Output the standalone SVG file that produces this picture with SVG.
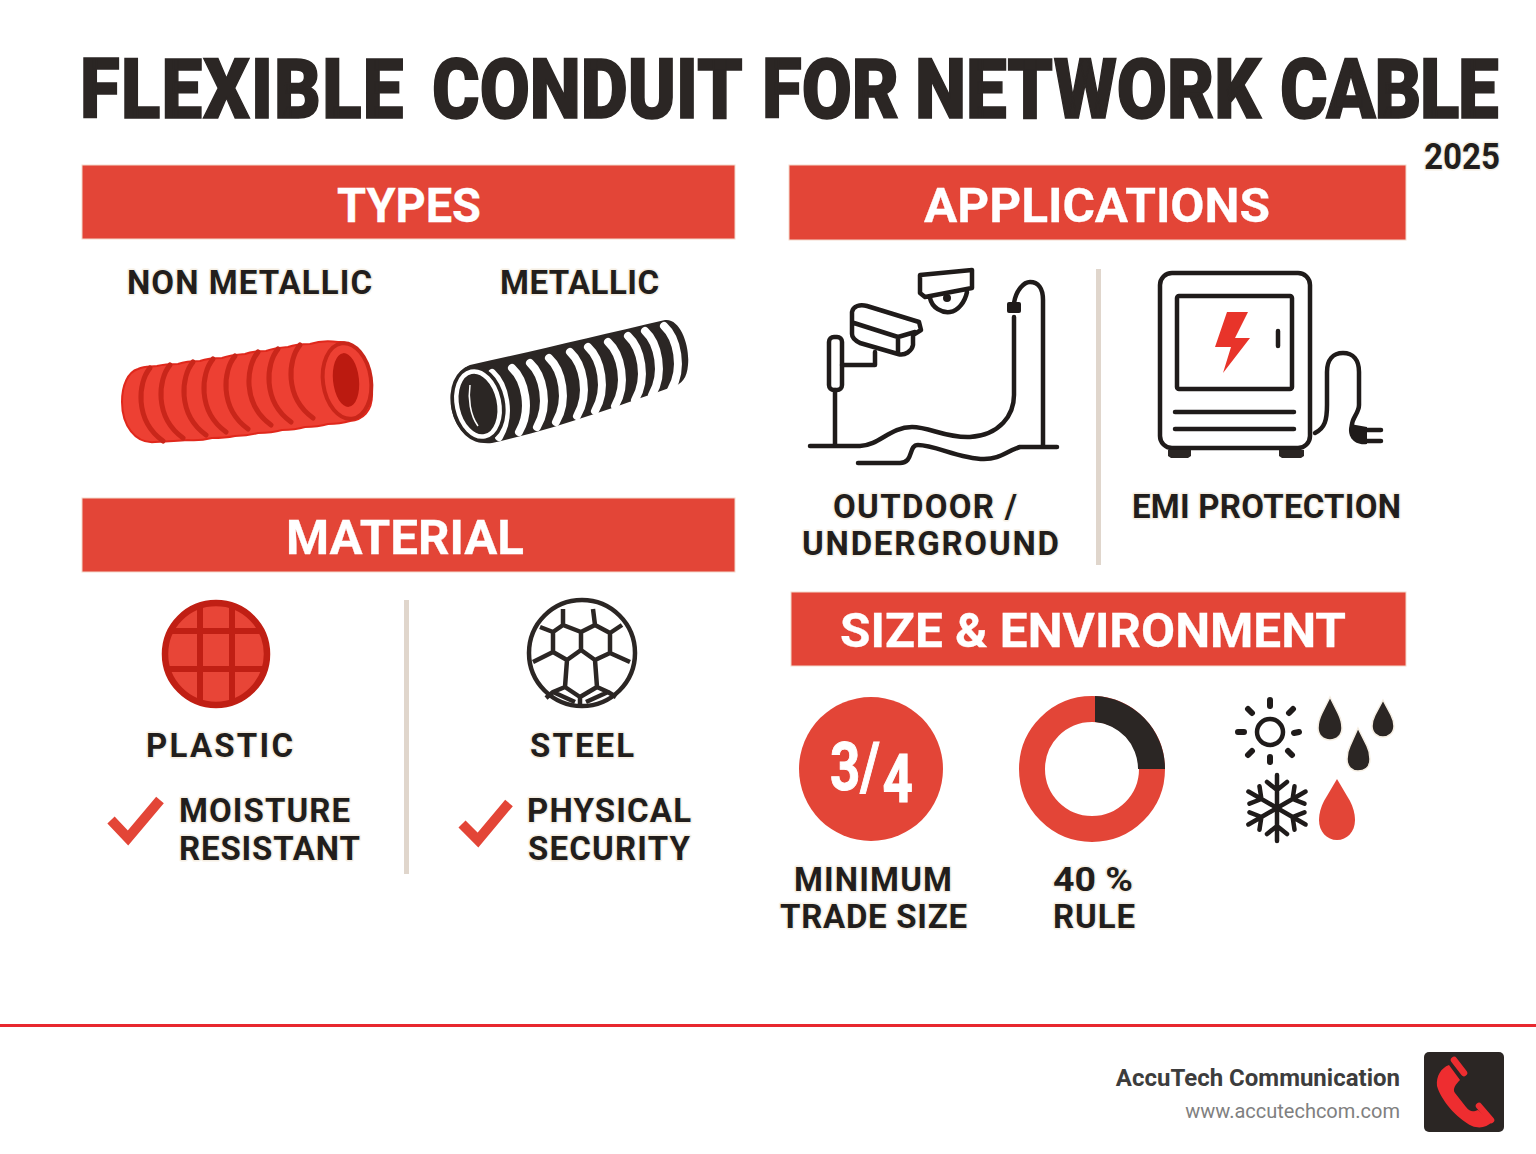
<svg xmlns="http://www.w3.org/2000/svg" width="1536" height="1154" viewBox="0 0 1536 1154">
<style>
text{font-family:Roboto,"Liberation Sans",sans-serif;font-weight:700}
.lab{font-size:33px;fill:#221e1c;stroke:#f6efe4;stroke-width:3px;paint-order:stroke;stroke-linejoin:round}
.hd{font-size:48px;fill:#fff;stroke:#fff;stroke-width:.3px}
.band{fill:#e34537;stroke:#f3d9cc;stroke-width:1}
.ln{fill:none;stroke:#1f1b1a;stroke-width:4.5;stroke-linecap:round;stroke-linejoin:round}
.div{fill:#e0d6cc}
.check{fill:none;stroke:#e34537;stroke-width:10;stroke-linejoin:miter}
.rib{fill:none;stroke:#c9261a;stroke-width:5;stroke-linecap:round}
.spr{fill:none;stroke:#fff;stroke-width:8;stroke-linecap:round}
.dk{fill:#2b2624;stroke:#f6efe4;stroke-width:1.5}
.sn{fill:none;stroke:#1f1b1a;stroke-width:4.5;stroke-linecap:round}
</style>
<defs>
<path id="rb" d="M0,0C-12,14-16,52 13,73"/>
<path id="sp" d="M0,0C13,12 20,42 7,64"/>
<path id="arm" d="M0,0V-33M0,-18L-10,-26M0,-18L10,-26"/>
<clipPath id="cp"><circle cx="216" cy="654" r="52"/></clipPath>
</defs>
<rect width="1536" height="1154" fill="#fff"/>

<g id="title">
<text y="118" transform="scale(.875 1)" font-size="83" fill="#2b2624" stroke="#2b2624" stroke-width="1.5" style="font-weight:900"><tspan x="91.4" letter-spacing="1.4">FLEXIBLE </tspan><tspan x="493.7">CONDUIT </tspan><tspan x="870.9">FOR </tspan><tspan x="1045.7">NETWORK </tspan><tspan x="1462.9" letter-spacing="-1.5">CABLE</tspan></text>
<text class="lab" x="1424" y="169" style="font-size:36px" textLength="76" lengthAdjust="spacingAndGlyphs">2025</text>
</g>

<g id="types">
<rect class="band" x="82" y="165" width="653" height="74"/>
<text class="hd" x="337" y="222" textLength="144" lengthAdjust="spacingAndGlyphs">TYPES</text>
</g>
<g id="non-metallic">
<text class="lab" x="127" y="294" textLength="245" lengthAdjust="spacing">NON METALLIC</text>
<path d="M138,369C145,366 150,367 157,366Q165,364 178,364Q186,361 200,361Q208,358 222,358Q230,355 245,354Q252,351 266,351Q274,348 288,347Q296,344 310,344Q322,340 338,342C358,340 371,365 372,392C373,412 362,420 350,421Q340,424 328,424Q318,427 305,427Q295,430 282,430Q272,433 258,433Q248,436 235,436Q225,438 212,438Q200,441 188,440Q176,441 155,442C135,444 122,425 122,402C122,385 128,372 138,369Z" fill="#ed4033" stroke="#e0281c" stroke-width="2"/>
<g class="rib">
<use href="#rb" x="150" y="368"/><use href="#rb" x="170" y="365"/><use href="#rb" x="193" y="362"/><use href="#rb" x="213" y="359"/><use href="#rb" x="235" y="356"/><use href="#rb" x="258" y="352"/><use href="#rb" x="278" y="349"/><use href="#rb" x="300" y="345"/>
</g>
<ellipse cx="347" cy="381" rx="24" ry="38" fill="#ed4033" stroke="#c9261a" stroke-width="4" transform="rotate(-8 347 381)"/>
<ellipse cx="346" cy="380" rx="13" ry="27" fill="#bb1a10" transform="rotate(-6 346 380)"/>
</g>
<g id="metallic">
<text class="lab" x="500" y="294" textLength="159" lengthAdjust="spacing">METALLIC</text>
<path d="M470,365C530,352 600,335 665,320C680,318 690,345 688,365C687,378 682,384 672,387C620,405 560,428 492,443C470,446 451,425 451,402C451,385 458,370 470,365Z" fill="#2b2624"/>
<g class="spr">
<use href="#sp" x="492" y="373"/><use href="#sp" x="512" y="368"/><use href="#sp" x="530" y="363"/><use href="#sp" x="549" y="358"/><use href="#sp" x="570" y="352"/><use href="#sp" x="588" y="347"/><use href="#sp" x="608" y="342"/><use href="#sp" x="628" y="336"/><use href="#sp" x="645" y="331"/><use href="#sp" x="664" y="326"/>
</g>
<ellipse cx="478" cy="404" rx="27" ry="39" fill="#2b2624" transform="rotate(-12 478 404)"/>
<ellipse cx="478" cy="404" rx="21" ry="33" fill="#2b2624" stroke="#fff" stroke-width="4.5" transform="rotate(-12 478 404)"/>
<path d="M470,385C468,398 470,415 478,426" fill="none" stroke="#fff" stroke-width="1.5"/>
</g>

<g id="material">
<rect class="band" x="82" y="498" width="653" height="74"/>
<text class="hd" x="286" y="554" textLength="238" lengthAdjust="spacingAndGlyphs">MATERIAL</text>
</g>
<g id="plastic">
<circle cx="216" cy="654" r="51" fill="#e84537" stroke="#c01f14" stroke-width="6.5"/>
<path clip-path="url(#cp)" d="M200,600V708M232,600V708M160,631H272M160,669H272" fill="none" stroke="#c01f14" stroke-width="6"/>
<text class="lab" x="146" y="757" textLength="147" lengthAdjust="spacing">PLASTIC</text>
<path class="check" d="M111,820L128,838L160,800"/>
<text class="lab" x="179" y="822" textLength="171" lengthAdjust="spacing">MOISTURE</text>
<text class="lab" x="179" y="860" textLength="181" lengthAdjust="spacing">RESISTANT</text>
</g>
<rect class="div" x="404" y="600" width="5" height="274"/>
<g id="steel">
<circle cx="582" cy="653" r="53" fill="#fff" stroke="#2b2624" stroke-width="4.5"/>
<path d="M563,609V625L581,632L595,625L593,609M563,625L553,632L540,627M553,632V652L567,660L581,650V632M581,650L595,660L610,653V633L595,625M610,633L622,625M610,653L630,662M553,652L533,662M567,660L565,687L580,697L597,687L595,660M580,697V706M597,687L608,692L616,697M608,692L586,702M565,687L553,692L546,698M553,692L575,702" fill="none" stroke="#2b2624" stroke-width="4.5" stroke-linejoin="round"/>
<text class="lab" x="530" y="757" textLength="104" lengthAdjust="spacing">STEEL</text>
<path class="check" d="M462,824L478,840L509,803"/>
<text class="lab" x="527" y="822" textLength="164" lengthAdjust="spacing">PHYSICAL</text>
<text class="lab" x="528" y="860" textLength="162" lengthAdjust="spacing">SECURITY</text>
</g>

<g id="applications">
<rect class="band" x="789" y="165" width="617" height="75"/>
<text class="hd" x="924" y="222" textLength="346" lengthAdjust="spacingAndGlyphs">APPLICATIONS</text>
</g>
<g id="outdoor">
<path class="ln" d="M810,446H860C880,445 890,427 912,427C930,427 945,438 970,437C1000,435 1014,415 1014,395V317"/>
<path class="ln" d="M1014,303C1016,290 1024,282 1030,282C1038,282 1043,288 1043,300V446M1020,447H1057M1020,447C1005,452 1000,459 984,459C960,459 935,445 918,445C908,445 914,463 900,463H858"/>
<rect x="1007" y="302" width="14" height="11" rx="2" fill="#1f1b1a"/>
<rect class="ln" x="829" y="337" width="13" height="53" rx="5"/>
<path class="ln" d="M835,390V445M842,365H875V352"/>
<path class="ln" d="M852,312C853,306 860,304 867,306L919,322L921,330L913,335V345C912,351 905,356 898,354L860,343C854,340 852,337 852,334ZM854,323L898,337L915,332M898,337V353"/>
<path class="ln" d="M920,275L972,270V288L925,297L920,293ZM930,298C932,308 942,313 950,312C958,311 965,302 967,292"/>
<circle cx="947" cy="298" r="4" fill="#1f1b1a"/>
<text class="lab" x="833" y="518" textLength="184" lengthAdjust="spacing">OUTDOOR /</text>
<text class="lab" x="802" y="555" textLength="257" lengthAdjust="spacing">UNDERGROUND</text>
</g>
<rect class="div" x="1096" y="269" width="5" height="296"/>
<g id="emi">
<rect class="ln" x="1160" y="273" width="150" height="175" rx="12"/>
<rect class="ln" x="1177" y="296" width="115" height="93" rx="2"/>
<path d="M1227,312H1248L1235,338H1250L1223,373L1231,347H1215Z" fill="#e8342a"/>
<path class="ln" d="M1278,331V346M1175,412H1294M1175,429H1294"/>
<path d="M1168,450H1191V456L1188,458H1171L1168,456ZM1279,450H1304V456L1301,458H1282L1279,456Z" fill="#2b2624"/>
<path class="ln" d="M1315,433C1325,428 1327,420 1327,405V372C1327,360 1333,353 1343,353C1353,353 1359,360 1359,372V405C1359,413 1352,418 1352,425"/>
<path d="M1350,424C1346,436 1354,446 1367,444V427Z" fill="#1f1b1a"/>
<path class="ln" d="M1366,430H1381M1366,441H1381"/>
<text class="lab" x="1132" y="518" textLength="269" lengthAdjust="spacing">EMI PROTECTION</text>
</g>

<g id="size-environment">
<rect class="band" x="791" y="592" width="615" height="74"/>
<text class="hd" x="840" y="647" textLength="506" lengthAdjust="spacingAndGlyphs">SIZE &amp; ENVIRONMENT</text>
</g>
<g id="trade-size">
<circle cx="871" cy="769" r="72" fill="#e34537"/>
<text transform="scale(.8 1)" font-size="66" fill="#fff" stroke="#fff" stroke-width="1"><tspan x="1037.5" y="790">3/</tspan><tspan x="1103" y="802">4</tspan></text>
<text class="lab" x="794" y="891" textLength="158" lengthAdjust="spacing">MINIMUM</text>
<text class="lab" x="780" y="928" textLength="187" lengthAdjust="spacing">TRADE SIZE</text>
</g>
<g id="rule">
<circle cx="1092" cy="769" r="60" fill="none" stroke="#e34537" stroke-width="26"/>
<path d="M1095,696A73,73 0 0 1 1165,769H1138A47,47 0 0 0 1095,722Z" fill="#2b2624"/>
<text class="lab" x="1053" y="891" textLength="80" lengthAdjust="spacingAndGlyphs">40 %</text>
<text class="lab" x="1053" y="928" textLength="82" lengthAdjust="spacing">RULE</text>
</g>
<g id="weather">
<circle cx="1270" cy="732" r="13" fill="none" stroke="#1f1b1a" stroke-width="4.5"/>
<path d="M1270,700V706M1270,757V762M1238,732H1244M1294,733L1299,732M1248,709L1252,713M1289,713L1293,709M1248,755L1252,751M1288,751L1292,755" fill="none" stroke="#1f1b1a" stroke-width="6" stroke-linecap="round"/>
<path class="dk" d="M1330,697L1338,713C1341,719 1342,723 1342,728C1342,735 1337,740 1330,740C1323,740 1318,735 1318,728C1318,723 1319,719 1322,713Z"/>
<path class="dk" d="M1383,700L1391,715C1393,719 1394,722 1394,726C1394,733 1389,737 1383,737C1377,737 1372,733 1372,726C1372,722 1373,719 1375,715Z"/>
<path class="dk" d="M1358,728L1367,746C1369,750 1370,754 1370,759C1370,767 1365,771 1358,771C1352,771 1347,767 1347,759C1347,754 1348,750 1350,746Z"/>
<path d="M1337,779L1350,801C1353,807 1355,813 1355,820C1355,832 1347,840 1337,840C1327,840 1319,832 1319,820C1319,813 1321,807 1324,801Z" fill="#e34537"/>
<g class="sn">
<use href="#arm" x="1277" y="808"/><use href="#arm" transform="translate(1277 808) rotate(60)"/><use href="#arm" transform="translate(1277 808) rotate(120)"/><use href="#arm" transform="translate(1277 808) rotate(180)"/><use href="#arm" transform="translate(1277 808) rotate(240)"/><use href="#arm" transform="translate(1277 808) rotate(300)"/>
</g>
</g>

<rect x="0" y="1024" width="1536" height="3" fill="#e8282f"/>
<g id="footer">
<text x="1400" y="1086" font-size="24" text-anchor="end" fill="#3d3d3d">AccuTech Communication</text>
<text x="1400" y="1118" font-size="20" text-anchor="end" fill="#808080" style="font-weight:400">www.accutechcom.com</text>
<rect x="1424" y="1052" width="80" height="80" rx="5" fill="#2b2624"/>
<path d="M1449,1065C1441,1068 1436,1076 1437,1086C1441,1100 1456,1118 1472,1126C1480,1129 1487,1127 1492,1122L1478,1110C1473,1112 1470,1112 1466,1107L1455,1093C1452,1089 1456,1084 1460,1080Z" fill="#ee2d30"/>
<path d="M1454,1060L1464,1073M1479,1106L1491,1120" fill="none" stroke="#ee2d30" stroke-width="6.5" stroke-linecap="round"/>
</g>
</svg>
